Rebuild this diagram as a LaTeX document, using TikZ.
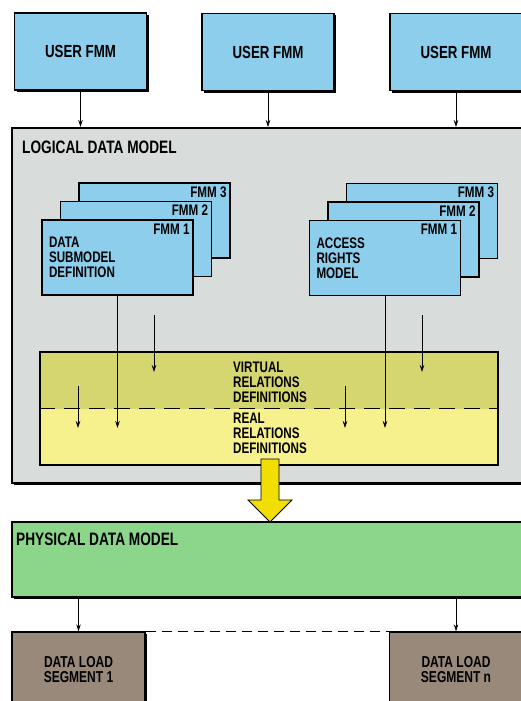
\documentclass[tikz,border=0pt]{standalone}
\usepackage{fontspec}
\setmainfont{Liberation Sans}[FakeStretch=0.76]
\usetikzlibrary{arrows.meta,positioning,shadows}
\definecolor{fmmblue}{RGB}{140,206,236}
\definecolor{logicgray}{RGB}{216,221,219}
\definecolor{virtyellow}{RGB}{214,214,112}
\definecolor{realyellow}{RGB}{246,241,140}
\definecolor{physgreen}{RGB}{140,214,140}
\definecolor{segbrown}{RGB}{152,137,122}
\definecolor{bigyellow}{RGB}{242,222,0}

\begin{document}
\begin{tikzpicture}[x=1pt,y=-1pt,
  userbox/.style={rectangle,draw,line width=1.4pt,fill=fmmblue,minimum width=132pt,minimum height=77pt,font=\bfseries\fontsize{17.5}{18}\selectfont,drop shadow={shadow xshift=2pt,shadow yshift=-2pt,fill=black,opacity=1}},
  fmmbox/.style={rectangle,draw,line width=1.4pt,fill=fmmblue,minimum width=151pt,minimum height=75pt,text width=137pt,align=left,font=\bfseries\fontsize{15.3}{15}\selectfont},
  fmmtag/.style={anchor=north east,inner sep=4pt,font=\bfseries\fontsize{15.3}{15}\selectfont},
  model/.style={rectangle,draw,line width=2pt,minimum width=518pt,inner sep=0pt,drop shadow={shadow xshift=1.5pt,shadow yshift=-1.5pt,fill=black,opacity=1}},
  title/.style={anchor=north west,inner sep=0pt,font=\bfseries\fontsize{18}{19}\selectfont},
  reltext/.style={inner sep=0pt,align=left,font=\bfseries\fontsize{15.3}{15}\selectfont},
  segbox/.style={rectangle,draw,line width=1.4pt,fill=segbrown,minimum width=133pt,minimum height=76pt,align=center,font=\bfseries\fontsize{15.8}{15}\selectfont,drop shadow={shadow xshift=2pt,shadow yshift=-2pt,fill=black,opacity=1}},
  arrow/.style={-{Stealth[length=7pt,width=4.5pt]},line width=0.7pt}]
  \fill[white] (0,0) rectangle (521,701);
  \useasboundingbox (0,0) rectangle (521,701);
  \clip (0,0) rectangle (521,701);
  % user side
  \node[userbox] (user1) at (80.5,51.5) {USER FMM};
  \node[userbox] (user2) at (268,52) {USER FMM};
  \node[userbox] (user3) at (456,52) {USER FMM};
  \node[model,fill=logicgray,minimum height=355pt] (logical) at (271,305.5) {};
  \node[title] at (22,141) {LOGICAL DATA MODEL};
  \draw[arrow] (user1.south) -- (user1.south |- logical.north);
  \draw[arrow] (user2.south) -- (user2.south |- logical.north);
  \draw[arrow] (user3.south) -- (user3.south |- logical.north);
  % submodel and access rights stacks
  \node[fmmbox,label={[fmmtag]north east:FMM 3}] (dsm3) at (154.5,220.5) {};
  \node[fmmbox,label={[fmmtag]north east:FMM 2}] (dsm2) at (136,239) {};
  \node[fmmbox,label={[fmmtag]north east:FMM 1}] (dsm1) at (117.5,257.5) {DATA\\SUBMODEL\\DEFINITION};
  \node[fmmbox,label={[fmmtag]north east:FMM 3}] (arm3) at (422,221) {};
  \node[fmmbox,label={[fmmtag]north east:FMM 2}] (arm2) at (403.5,239.5) {};
  \node[fmmbox,label={[fmmtag]north east:FMM 1}] (arm1) at (385,258) {ACCESS\\RIGHTS\\MODEL};
  % relations
  \node[rectangle,draw,line width=1.4pt,fill=realyellow,minimum width=458pt,minimum height=113pt,
    path picture={\fill[virtyellow] (path picture bounding box.north west) rectangle (path picture bounding box.east);}] (rel) at (269,408.5) {};
  \draw[line width=1.2pt,dash pattern=on 16pt off 9pt] (rel.west) -- (rel.east);
  \node[reltext,anchor=south west] (virt) at (233,403) {VIRTUAL\\RELATIONS\\DEFINITIONS};
  \node[reltext,anchor=north west] (real) at (233,413) {REAL\\RELATIONS\\DEFINITIONS};
  \coordinate (lowend) at (0,428);
  \coordinate (highend) at (0,372);
  \coordinate (vstart1) at (154,315);
  \coordinate (vstart2) at (422,315);
  \coordinate (rstart1) at (78,386);
  \coordinate (rstart2) at (345,386);
  \draw[arrow] (dsm1.south) -- (dsm1.south |- lowend);
  \draw[arrow] (arm1.south) -- (arm1.south |- lowend);
  \draw[arrow] (vstart1) -- (vstart1 |- highend);
  \draw[arrow] (vstart2) -- (vstart2 |- highend);
  \draw[arrow] (rstart1) -- (rstart1 |- lowend);
  \draw[arrow] (rstart2) -- (rstart2 |- lowend);
  % physical side
  \node[model,fill=physgreen,minimum height=75pt] (phys) at (271,559.5) {};
  \node[title] at (16,533) {PHYSICAL DATA MODEL};
  \draw[fill=bigyellow,line width=0.8pt] (261,459) -- (279,459) -- (279,500) -- (292,500) -- (270,522)
    -- (248,500) -- (261,500) -- cycle;
  \node[segbox] (seg1) at (78.5,670) {DATA LOAD\\SEGMENT 1};
  \node[segbox] (segn) at (456,670) {DATA LOAD\\SEGMENT n};
  \draw[arrow] (phys.south -| seg1) -- (seg1.north);
  \draw[arrow] (phys.south -| segn) -- (segn.north);
  \draw[line width=1pt,dash pattern=on 10pt off 6pt] (seg1.north east) -- (segn.north west);
\end{tikzpicture}
\end{document}
